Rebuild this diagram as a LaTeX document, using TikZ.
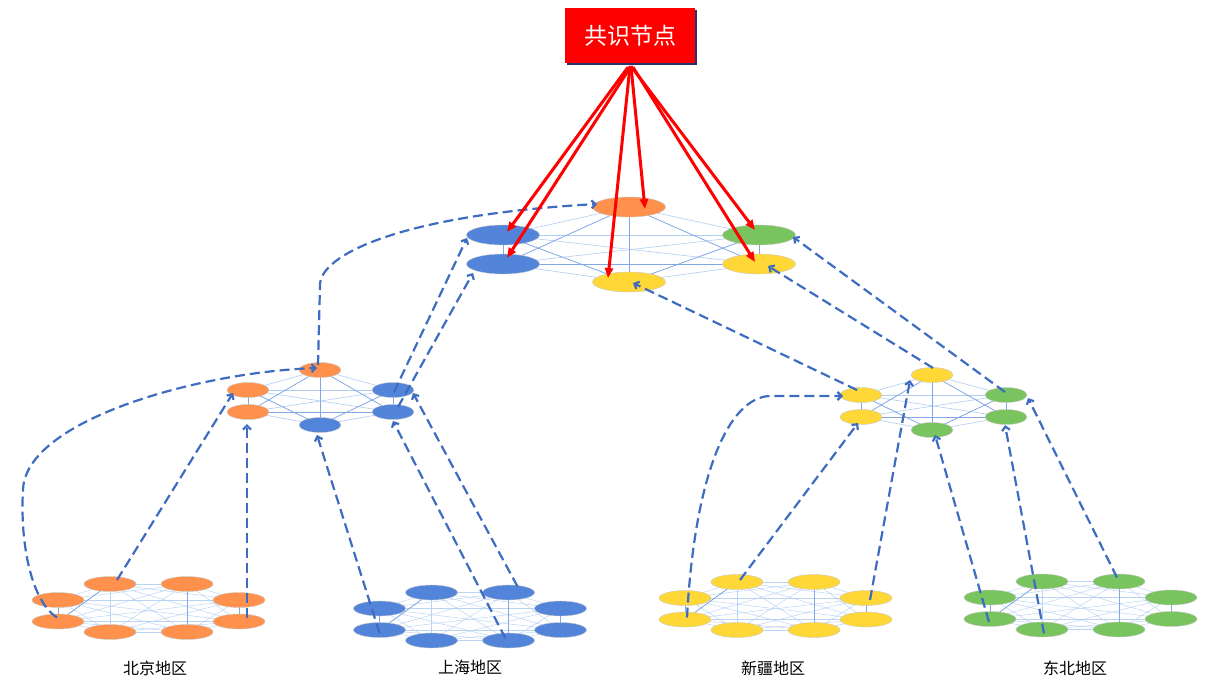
\documentclass[tikz,border=0pt]{standalone}
\usepackage{fontspec}
\newfontfamily\cjk{Noto Sans CJK SC}
\usetikzlibrary{arrows.meta,shapes.geometric,shadows}
\pgfdeclarelayer{bg}
\pgfsetlayers{bg,main}
\definecolor{dblue}{RGB}{62,108,192}
\definecolor{cO}{RGB}{255,145,77}
\definecolor{cB}{RGB}{82,132,218}
\definecolor{cY}{RGB}{255,216,56}
\definecolor{cG}{RGB}{122,196,96}
\definecolor{lnkc}{RGB}{175,205,242}
\definecolor{lnkdc}{RGB}{130,168,228}
\definecolor{shadowc}{RGB}{40,50,110}
\tikzset{
  ell/.style={ellipse, draw=black!22, line width=0.4pt, inner sep=0pt, outer sep=0pt},
  bigel/.style={ell, minimum width=73pt, minimum height=20pt},
  midel/.style={ell, minimum width=42pt, minimum height=15pt},
  smallel/.style={ell, minimum width=52pt, minimum height=15pt},
  lnkl/.style={draw=lnkc, line width=0.6pt},
  lnkd/.style={draw=lnkdc, line width=0.8pt},
  lnkf/.style={draw=lnkc, line width=0.5pt, opacity=0.85},
  flow/.style={draw=dblue, line width=2.2pt, dash pattern=on 10pt off 5pt,
    -{Straight Barb[length=4pt,width=8pt]}},
  redarrow/.style={draw=red, line width=3pt, -{Triangle[length=10pt,width=8pt]}},
  consbox/.style={fill=red, text=white, minimum width=130pt, minimum height=55pt,
    inner sep=0pt, font=\cjk\fontsize{23}{26}\selectfont,
    drop shadow={shadow xshift=1.8pt, shadow yshift=-1.8pt, fill=shadowc, opacity=1}},
  region/.style={font=\cjk\fontsize{16}{18}\selectfont, text=black}
}
\newcommand\regionnet[4]{%
  \foreach \k/\dx/\dy in {1/-90.5/-8,2/-90.5/13.5,3/-38.5/-24,4/-38.5/24,5/38.5/-24,6/38.5/24,7/90.5/-8,8/90.5/13.5}
    {\node[smallel, fill=#4] (#1\k) at (#2+\dx,#3+\dy) {};}
  \begin{pgfonlayer}{bg}
  \foreach \i in {1,...,8}{\foreach \j in {1,...,8}{\ifnum\j>\i \draw[lnkf] (#1\i.center) -- (#1\j.center);\fi}}
  \foreach \a/\b in {3/2,5/6,1/2,7/8}{\draw[lnkd] (#1\a.center) -- (#1\b.center);}
  \end{pgfonlayer}
}
\newcommand\hexlinks[1]{%
  \begin{pgfonlayer}{bg}
  \foreach \a/\b in {1/2,1/4,2/4,2/5,3/4,3/6,5/6}{\draw[lnkl] (#1\a.center) -- (#1\b.center);}
  \foreach \a/\b in {1/6,2/3,4/5,1/3,1/5,2/6,4/6,3/5}{\draw[lnkd] (#1\a.center) -- (#1\b.center);}
  \end{pgfonlayer}
}
\begin{document}
\begin{tikzpicture}[x=1pt,y=-1pt]
\useasboundingbox (0,0) rectangle (1212,683);

% consensus box
\node[consbox] (cons) at (630,35.5) {共识节点};

% top cluster
\node[bigel, fill=cO] (t1) at (629,207) {};
\node[bigel, fill=cB] (t2) at (503,235) {};
\node[bigel, fill=cB] (t3) at (503,264) {};
\node[bigel, fill=cG] (t4) at (759,235) {};
\node[bigel, fill=cY] (t5) at (759,264) {};
\node[bigel, fill=cY] (t6) at (629,282) {};
\hexlinks{t}

% middle-left cluster
\node[midel, fill=cO] (m1) at (320,370) {};
\node[midel, fill=cO] (m2) at (248,390) {};
\node[midel, fill=cO] (m3) at (248,412) {};
\node[midel, fill=cB] (m4) at (393,390) {};
\node[midel, fill=cB] (m5) at (393,412) {};
\node[midel, fill=cB] (m6) at (320,425) {};
\hexlinks{m}

% middle-right cluster
\node[midel, fill=cY] (n1) at (932,375) {};
\node[midel, fill=cY] (n2) at (861,395) {};
\node[midel, fill=cY] (n3) at (861,417) {};
\node[midel, fill=cG] (n4) at (1006,395) {};
\node[midel, fill=cG] (n5) at (1006,417) {};
\node[midel, fill=cG] (n6) at (932,430) {};
\hexlinks{n}

% regional clusters
\regionnet{bj}{148.5}{608}{cO}
\regionnet{sh}{470}{616.5}{cB}
\regionnet{xj}{775.5}{606}{cY}
\regionnet{db}{1080.5}{605.5}{cG}

\node[region] (lbj) at (155,668) {北京地区};
\node[region] (lsh) at (470,667) {上海地区};
\node[region] (lxj) at (773,668) {新疆地区};
\node[region] (ldb) at (1075,668) {东北地区};

% bend coordinates
\coordinate (bjbend) at (23,490);
\coordinate (mbend) at (320,285);
\coordinate (xjbend) at (770,396);

% Beijing -> middle-left
\draw[flow] ([shift={(-1,-4)}]bj2.center) .. controls (30,600) and (20,540) .. (bjbend)
  .. controls (25,420) and (200,372) .. ([shift={(-3,-2)}]m1.center);
\draw[flow] ([shift={(7,-4)}]bj3.center) -- ([shift={(-15,3)}]m2.center);
\draw[flow] ([shift={(8,-4)}]bj8.center) -- ([shift={(-1,12)}]m3.center);
% Shanghai -> middle-left
\draw[flow] ([shift={(0,3)}]sh2.center) -- ([shift={(-3,10)}]m6.center);
\draw[flow] ([shift={(-3,-2)}]sh6.center) -- ([shift={(0,9)}]m5.center);
\draw[flow] ([shift={(9,-6)}]sh5.center) -- ([shift={(20,3)}]m4.center);
% middle-left -> top
\draw[flow] ([shift={(1,2)}]m4.center) -- ([shift={(-36,3)}]t2.center);
\draw[flow] ([shift={(5,-5)}]m5.center) -- ([shift={(-30,9)}]t3.center);
\draw[flow] ([shift={(-2,-5)}]m1.center) -- (mbend)
  .. controls (320,255) and (400,215) .. ([shift={(-32,-3)}]t1.center);
% Xinjiang -> middle-right
\draw[flow] ([shift={(2,-2)}]xj2.center) .. controls (695,470) and (730,397) .. (xjbend)
  -- ([shift={(-18,1)}]n2.center);
\draw[flow] ([shift={(3,-2)}]xj3.center) -- ([shift={(-3,6)}]n3.center);
\draw[flow] ([shift={(4,2)}]xj7.center) -- ([shift={(-22,5)}]n1.center);
% Dongbei -> middle-right
\draw[flow] ([shift={(-1,3)}]db2.center) -- ([shift={(3,5)}]n6.center);
\draw[flow] ([shift={(2,4)}]db4.center) -- ([shift={(-1,8)}]n5.center);
\draw[flow] ([shift={(-2,-4)}]db5.center) -- ([shift={(22,3)}]n4.center);
% middle-right -> top
\draw[flow] ([shift={(-4,-5)}]n2.center) -- ([shift={(4,1)}]t6.center);
\draw[flow] ([shift={(1,-7)}]n1.center) -- ([shift={(9,2)}]t5.center);
\draw[flow] ([shift={(-1,-3)}]n4.center) -- ([shift={(34,2)}]t4.center);

% consensus arrows
\draw[redarrow] ([shift={(-2,4)}]cons.south) -- ([shift={(4,-3)}]t2.center);
\draw[redarrow] ([shift={(1,3)}]cons.south) -- ([shift={(4,-6)}]t3.center);
\draw[redarrow] ([shift={(0,3)}]cons.south) -- ([shift={(-21,-4)}]t6.center);
\draw[redarrow] ([shift={(1,3)}]cons.south) -- ([shift={(16,2)}]t1.center);
\draw[redarrow] ([shift={(1,3)}]cons.south) -- ([shift={(-4,-5)}]t4.center);
\draw[redarrow] ([shift={(3,4)}]cons.south) -- ([shift={(-4,-2)}]t5.center);
\end{tikzpicture}
\end{document}
